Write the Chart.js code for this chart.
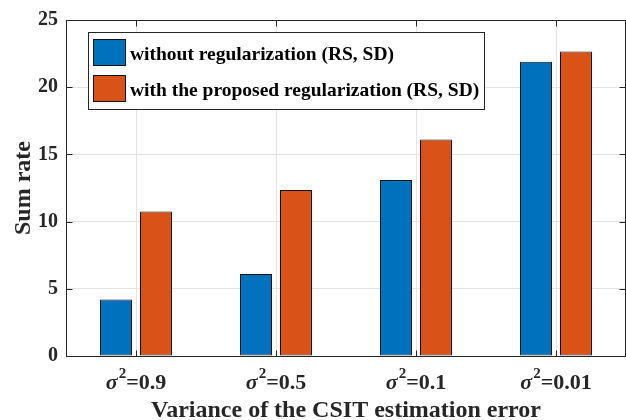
<!DOCTYPE html>
<html>
<head>
<meta charset="utf-8">
<script src="https://cdn.jsdelivr.net/npm/chart.js@4/dist/chart.umd.min.js"></script>
<style>
  html, body { margin: 0; padding: 0; background: #fff; overflow: hidden; }
  #wrap { width: 626px; height: 420px; }
</style>
</head>
<body>
<div id="wrap"><canvas id="c" width="626" height="420"></canvas></div>
<script>
// Sum rate versus CSIT error variance, two precoder designs
const varianceValues = ['0.9', '0.5', '0.1', '0.01'];
const seriesNames = [
  'without regularization (RS, SD)',
  'with the proposed regularization (RS, SD)'
];
const rateWithout = [4.2, 6.1, 13.1, 21.9];
const rateProposed = [10.75, 12.35, 16.1, 22.65];
const yTickValues = [0, 5, 10, 15, 20, 25];
const xTitle = 'Variance of the CSIT estimation error';
const yTitle = 'Sum rate';

const BLUE = '#0072BD';
const ORANGE = '#D95319';
const AXIS = '#262626';
const GRID = '#e3e3e3';
const SERIF = '"Liberation Serif", "Times New Roman", serif';

// Box, inward ticks, sigma labels, axis titles and the in-plot legend
const matlabAxes = {
  id: 'matlabAxes',
  afterDatasetsDraw(chart) {
    const ctx = chart.ctx;
    const a = chart.chartArea;
    const xs = chart.scales.x, ys = chart.scales.y;
    const L = Math.round(a.left) + 0.5, R = Math.round(a.right) - 0.5;
    const T = Math.round(a.top) + 0.5, B = Math.round(a.bottom) + 0.5;
    const tick = 6;
    ctx.save();
    ctx.strokeStyle = AXIS;
    ctx.lineWidth = 1;
    ctx.beginPath();
    // y ticks both sides
    yTickValues.forEach(v => {
      const y = Math.round(ys.getPixelForValue(v)) + 0.5;
      ctx.moveTo(L, y); ctx.lineTo(L + tick, y);
      ctx.moveTo(R, y); ctx.lineTo(R - tick, y);
    });
    // x ticks top and bottom
    varianceValues.forEach((_, i) => {
      const x = Math.round(xs.getPixelForValue(i)) + 0.5;
      ctx.moveTo(x, B); ctx.lineTo(x, B - tick);
      ctx.moveTo(x, T); ctx.lineTo(x, T + tick);
    });
    ctx.stroke();
    ctx.strokeRect(L, T, R - L, B - T);

    // x tick labels: sigma^2 = value
    ctx.fillStyle = AXIS;
    ctx.textBaseline = 'alphabetic';
    ctx.textAlign = 'left';
    const base = 389;
    varianceValues.forEach((v, i) => {
      const cx = xs.getPixelForValue(i);
      const f1 = 'italic bold 22px ' + SERIF;
      const f2 = 'bold 15px ' + SERIF;
      const f3 = 'bold 22px ' + SERIF;
      const rest = '=' + v;
      ctx.font = f1; const w1 = ctx.measureText('σ').width;
      ctx.font = f2; const w2 = ctx.measureText('2').width;
      ctx.font = f3; const w3 = ctx.measureText(rest).width;
      let x = cx - (w1 + w2 + w3 + 1) / 2;
      ctx.font = f1; ctx.fillText('σ', x, base); x += w1 + 1;
      ctx.font = f2; ctx.fillText('2', x, base - 11); x += w2;
      ctx.font = f3; ctx.fillText(rest, x, base);
    });

    // axis titles
    ctx.font = 'bold 24px ' + SERIF;
    ctx.textAlign = 'center';
    ctx.fillText(xTitle, (a.left + a.right) / 2, 417);
    ctx.save();
    ctx.translate(30, (a.top + a.bottom) / 2);
    ctx.rotate(-Math.PI / 2);
    ctx.fillText(yTitle, 0, 0);
    ctx.restore();

    // legend
    const lx = 88.5, ly = 32.5, lw = 396, lh = 77;
    ctx.fillStyle = '#fff';
    ctx.fillRect(lx, ly, lw, lh);
    ctx.strokeStyle = AXIS;
    ctx.strokeRect(lx, ly, lw, lh);
    ctx.font = 'bold 19.5px ' + SERIF;
    ctx.textAlign = 'left';
    chart.data.datasets.forEach((ds, i) => {
      const sy = 39 + i * 36;
      ctx.fillStyle = ds.backgroundColor;
      ctx.fillRect(93.5, sy + 0.5, 32, 26);
      ctx.strokeStyle = '#111';
      ctx.strokeRect(93.5, sy + 0.5, 32, 26);
      ctx.fillStyle = '#000';
      ctx.fillText(ds.label, 130, 60 + i * 36);
    });
    ctx.restore();
  }
};

new Chart(document.getElementById('c'), {
  type: 'bar',
  data: {
    labels: varianceValues,
    datasets: [
      { label: seriesNames[0], data: rateWithout, backgroundColor: BLUE },
      { label: seriesNames[1], data: rateProposed, backgroundColor: ORANGE }
    ]
  },
  options: {
    responsive: false,
    animation: false,
    devicePixelRatio: 1,
    layout: { padding: { top: 19, right: -2, bottom: 0, left: 0 } },
    datasets: {
      bar: {
        borderColor: '#111',
        borderWidth: 1,
        borderSkipped: false,
        categoryPercentage: 0.571,
        barPercentage: 0.8
      }
    },
    plugins: { legend: { display: false }, tooltip: { enabled: false } },
    scales: {
      x: {
        offset: true,
        grid: { color: GRID, drawTicks: false, offset: false },
        border: { display: false },
        ticks: { display: false },
        afterFit(s) { s.height = 64; }
      },
      y: {
        min: 0, max: 25,
        afterBuildTicks(s) { s.ticks = yTickValues.map(v => ({ value: v })); },
        grid: { color: GRID, drawTicks: false },
        border: { display: false },
        ticks: {
          padding: 8,
          color: AXIS,
          font: { family: SERIF, size: 20, weight: 'bold' }
        },
        afterFit(s) { s.width = 66; }
      }
    }
  },
  plugins: [matlabAxes]
});
</script>
</body>
</html>
